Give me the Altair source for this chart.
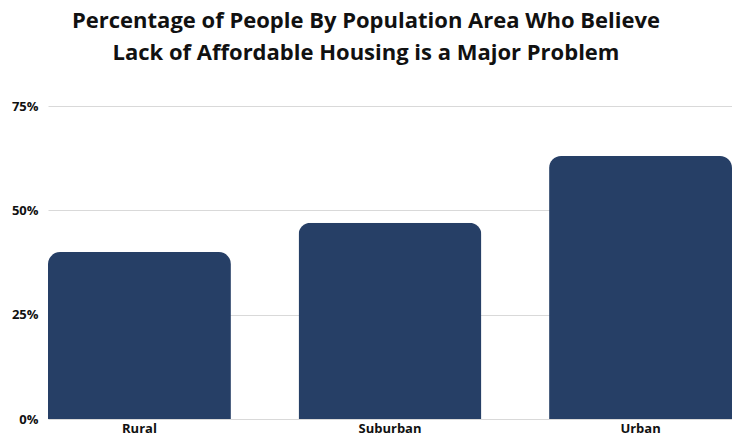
import altair as alt
import pandas as pd

categories = ["Rural", "Suburban", "Urban"]
values = [40, 47, 63]
ticks = [0, 25, 50, 75]

df = pd.DataFrame({"area": categories, "pct": values})

chart = alt.Chart(df).mark_bar(
    color="#263f66", cornerRadiusTopLeft=12, cornerRadiusTopRight=12
).encode(
    x=alt.X("area:N", sort=categories,
            scale=alt.Scale(paddingInner=0.27, paddingOuter=0),
            axis=alt.Axis(title=None, labelAngle=0, labelFontSize=13, labelFontWeight="bold",
                          labelColor="#111111", labelFont="Open Sans", ticks=False, domain=False,
                          labelPadding=3)),
    y=alt.Y("pct:Q", scale=alt.Scale(domain=[0, 75], nice=False),
            axis=alt.Axis(title=None, values=ticks, labelExpr="datum.value + '%'",
                          labelFontSize=13, labelFontWeight="bold", labelColor="#111111",
                          labelFont="Open Sans", ticks=False, tickSize=0, domain=False,
                          labelPadding=10, grid=True, gridColor="#d9d9d9", gridWidth=1)),
).properties(
    width=684, height=313,
    title=alt.TitleParams(
        text=["Percentage of People By Population Area Who Believe",
              "Lack of Affordable Housing is a Major Problem"],
        font="Open Sans", fontSize=22, fontWeight="bold", color="#111111",
        anchor="middle", dx=-24, offset=35, lineHeight=32
    ),
    autosize=alt.AutoSizeParams(type="none"),
    padding={"left": 48, "top": 106, "right": 0, "bottom": 18},
).configure_view(stroke=None)

chart.save("out.html", embed_options={"renderer": "svg", "actions": False})
